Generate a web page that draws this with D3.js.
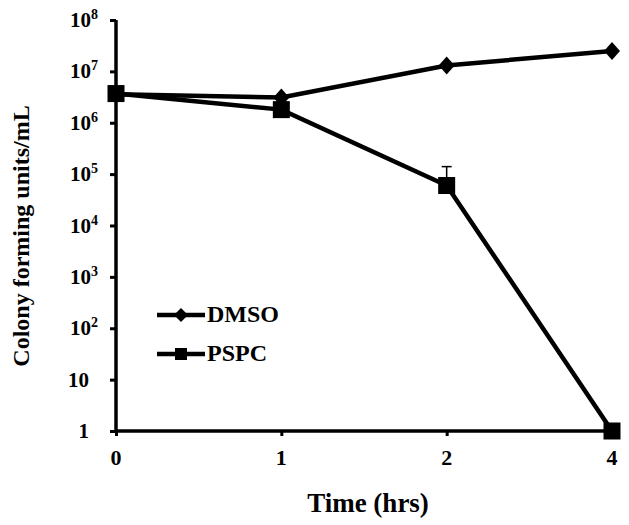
<!DOCTYPE html>
<html><head><meta charset="utf-8">
<script src="https://cdn.jsdelivr.net/npm/d3@7"></script>
<style>body{margin:0;background:#fff}svg{display:block}text{font-family:"Liberation Serif","Times New Roman",serif;font-weight:bold;fill:#000}</style>
</head><body>
<svg id="c" width="629" height="525"></svg>
<script>
const times = ["0","1","2","4"];
const dmso = [3.6e6, 3.1e6, 1.3e7, 2.5e7];
const pspc = [3.7e6, 1.8e6, 6.0e4, 1];
const pspcErr = [0, 0, 8.0e4, 0];
const yTicks = [1, 10, 1e2, 1e3, 1e4, 1e5, 1e6, 1e7, 1e8];
const seriesNames = ["DMSO", "PSPC"];

const svg = d3.select("#c");
const x = d3.scalePoint().domain(times).range([116, 612]);
const y = d3.scaleLog().domain([1, 1e8]).range([431, 20]);

// axes
const yAxis = svg.append("g").attr("transform","translate(116,0)")
  .call(d3.axisLeft(y).tickValues(yTicks).tickSize(6).tickFormat(""));
const xAxis = svg.append("g").attr("transform","translate(0,431)")
  .call(d3.axisBottom(x).tickSize(5).tickFormat(""));
[yAxis, xAxis].forEach(g=>{
  g.select(".domain").attr("stroke","#000").attr("stroke-width",3.5);
  g.selectAll(".tick line").attr("stroke","#000").attr("stroke-width",3);
});
yAxis.select(".domain").attr("d","M0,20V431");
xAxis.select(".domain").attr("d","M116,0H612");

// y tick labels
yTicks.forEach(v=>{
  const e = Math.round(Math.log10(v));
  const t = svg.append("text").attr("text-anchor","end").attr("font-size",21)
    .attr("x", 98).attr("y", y(v)+7);
  if (e === 0) { t.attr("x", 89).text("1"); }
  else if (e === 1) { t.attr("x", 89).text("10"); }
  else {
    t.append("tspan").text("10");
    t.append("tspan").attr("font-size",14).attr("dy",-8).text(e);
  }
});
// x tick labels
times.forEach(tv=>{
  svg.append("text").attr("text-anchor","middle").attr("font-size",22)
    .attr("x", x(tv)).attr("y", 465).text(tv);
});
// titles
svg.append("text").attr("text-anchor","middle").attr("font-size",24)
  .attr("transform","translate(29,236) rotate(-90)").text("Colony forming units/mL");
svg.append("text").attr("text-anchor","middle").attr("font-size",27)
  .attr("x", 368).attr("y", 512).text("Time (hrs)");

const line = d3.line().x((d,i)=>x(times[i])).y(d=>y(d));
const diamond = (g, cx, cy, rx, ry) => g.append("path")
  .attr("d", `M${cx},${cy-ry}L${cx+rx},${cy}L${cx},${cy+ry}L${cx-rx},${cy}Z`).attr("fill","#000");
const square = (g, cx, cy, s) => g.append("rect")
  .attr("x", cx-s/2).attr("y", cy-s/2).attr("width", s).attr("height", s).attr("fill","#000");

// error bars
pspc.forEach((v,i)=>{
  if (pspcErr[i] > 0) {
    const cx = x(times[i]);
    svg.append("line").attr("x1",cx).attr("x2",cx).attr("y1",y(v)).attr("y2",y(v+pspcErr[i]))
      .attr("stroke","#000").attr("stroke-width",1.5);
    svg.append("line").attr("x1",cx-5).attr("x2",cx+5).attr("y1",y(v+pspcErr[i])).attr("y2",y(v+pspcErr[i]))
      .attr("stroke","#000").attr("stroke-width",1.5);
  }
});

svg.append("path").datum(dmso).attr("d", line).attr("fill","none").attr("stroke","#000").attr("stroke-width",4.5);
svg.append("path").datum(pspc).attr("d", line).attr("fill","none").attr("stroke","#000").attr("stroke-width",4.5);
dmso.forEach((v,i)=>diamond(svg, x(times[i]), y(v), 8, 9));
pspc.forEach((v,i)=>square(svg, x(times[i]), y(v), 17));

// legend
const lg = svg.append("g");
lg.append("line").attr("x1",157).attr("x2",205).attr("y1",315).attr("y2",315).attr("stroke","#000").attr("stroke-width",4.5);
diamond(lg, 181, 315, 7, 7);
lg.append("text").attr("x",207).attr("y",322).attr("font-size",24).text(seriesNames[0]);
lg.append("line").attr("x1",157).attr("x2",205).attr("y1",354).attr("y2",354).attr("stroke","#000").attr("stroke-width",4.5);
square(lg, 181, 354, 12);
lg.append("text").attr("x",207).attr("y",361).attr("font-size",24).text(seriesNames[1]);
</script>
</body></html>
